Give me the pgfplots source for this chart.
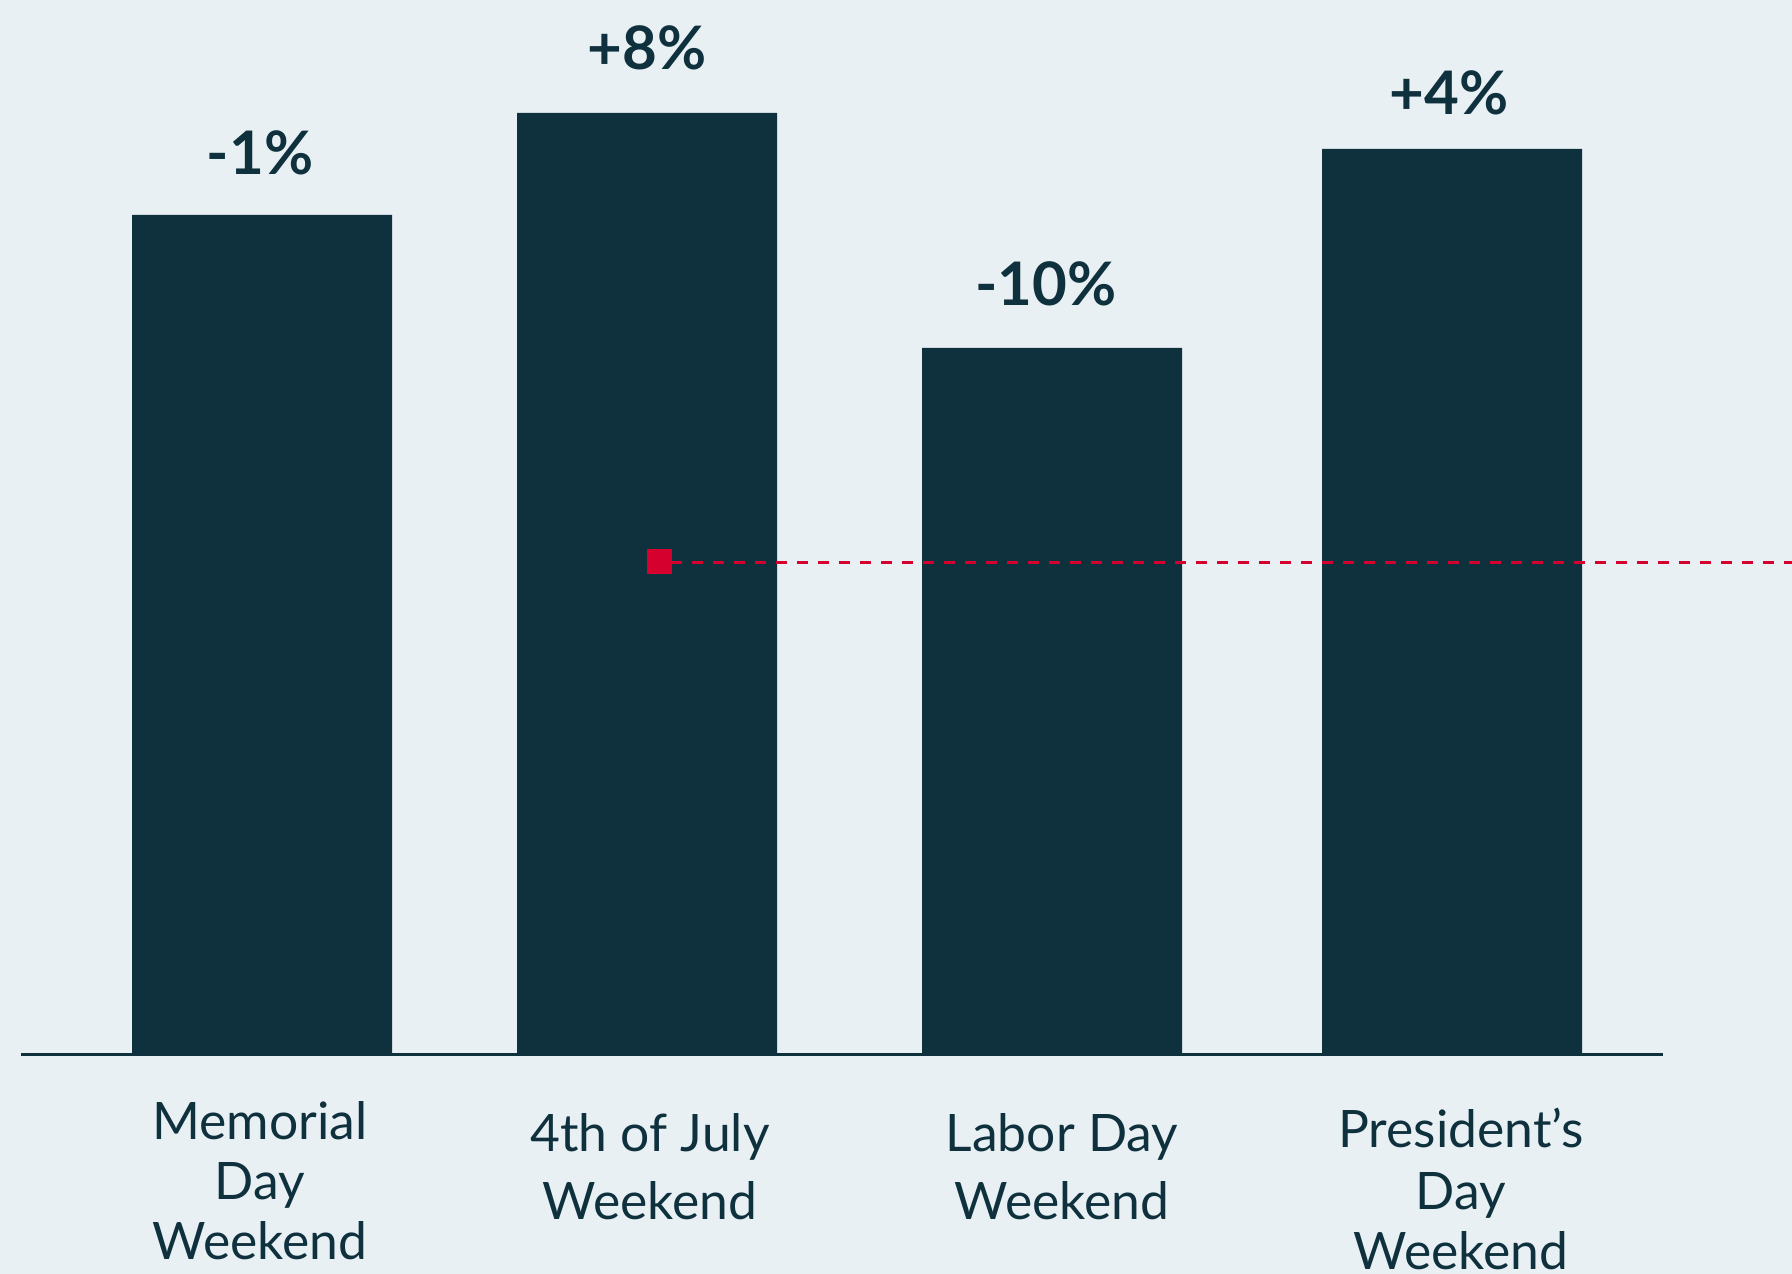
\documentclass[border=0pt]{standalone}
\usepackage{fontspec}
\setmainfont{Lato}
\usepackage{pgfplots}
\pgfplotsset{compat=1.18}
\definecolor{bgc}{HTML}{E8F0F3}
\definecolor{barc}{HTML}{0F313E}
\definecolor{redc}{HTML}{D5002D}
\begin{document}
\begin{tikzpicture}
\begin{axis}[
  scale only axis, width=448pt, height=318.5pt,
  xmin=0, xmax=1792, ymin=-219, ymax=1055,
  axis lines=none, clip=false,
  axis background/.style={fill=bgc},
  xtick=\empty, ytick=\empty,
]
\fill[bgc] (rel axis cs:0,0) rectangle (rel axis cs:1,1);
% bars (pixel-height units above baseline)
\addplot[ybar, fill=barc, draw=none, bar width=260] coordinates {(262,840) (647,942) (1052,707) (1452,906)};
% baseline
\addplot[barc, line width=0.75pt] coordinates {(21,0) (1663,0)};
% red dashed reference line
\addplot[redc, line width=0.75pt, dash pattern=on 2.67pt off 2.58pt] coordinates {(671,492) (1792,492)};
\addplot[redc, only marks, mark=square*, mark size=3pt, mark options={fill=redc, draw=redc, line width=0pt, solid}] coordinates {(659,493)};
% value labels
\tikzset{vl/.style={anchor=base, text=barc, font=\fontsize{15}{18}\selectfont\bfseries}}
\node[vl] at (axis cs:260,880) {-1\%};
\node[vl] at (axis cs:647,985) {+8\%};
\node[vl] at (axis cs:1046,749) {-10\%};
\node[vl] at (axis cs:1449,940) {+4\%};
% category labels
\tikzset{cl/.style={anchor=base, text=barc, font=\fontsize{12.9}{15}\selectfont}}
\node[cl] at (axis cs:260,-85) {Memorial};
\node[cl] at (axis cs:260,-145) {Day};
\node[cl] at (axis cs:260,-205) {Weekend};
\node[cl] at (axis cs:650,-97) {4th of July};
\node[cl] at (axis cs:650,-165) {Weekend};
\node[cl] at (axis cs:1062,-97) {Labor Day};
\node[cl] at (axis cs:1062,-165) {Weekend};
\node[cl] at (axis cs:1461,-93) {President’s};
\node[cl] at (axis cs:1461,-155) {Day};
\node[cl] at (axis cs:1461,-215) {Weekend};
\end{axis}
\pgfresetboundingbox
\useasboundingbox (current axis.south west) rectangle (current axis.north east);
\end{tikzpicture}
\end{document}
